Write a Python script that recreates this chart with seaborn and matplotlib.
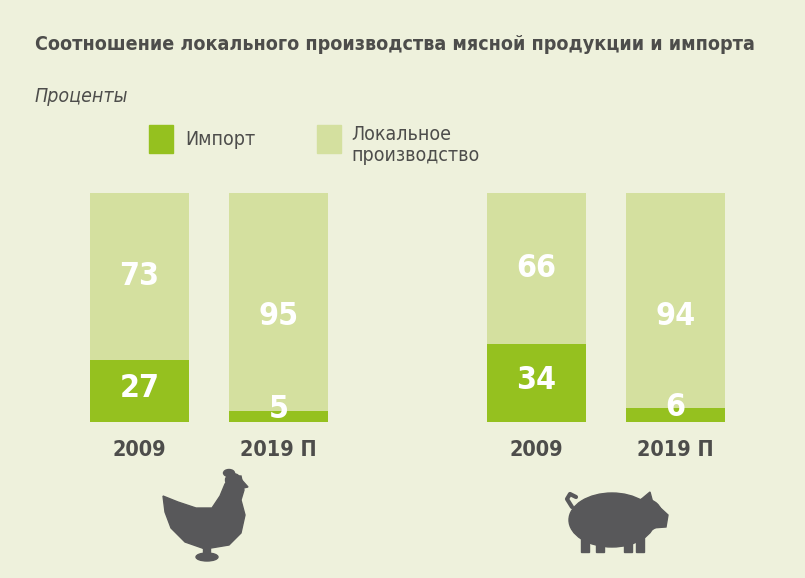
"""Соотношение локального производства мясной продукции и импорта."""

import matplotlib

matplotlib.use("Agg")
import matplotlib.pyplot as plt  # noqa: E402
import pandas as pd  # noqa: E402
import seaborn as sns  # noqa: E402
from matplotlib.patches import Ellipse, Polygon, Rectangle  # noqa: E402

# data
years = ["2009", "2019 П"]
chicken_import = [27, 5]
chicken_local = [73, 95]
pork_import = [34, 6]
pork_local = [66, 94]

BG = "#eef1dc"
IMPORT_C = "#95c11f"
LOCAL_C = "#d4e09f"
TEXT_C = "#4d4d4b"
ICON_C = "#58585a"

sns.set_theme(style="white")
plt.rcParams["font.family"] = ["DejaVu Sans"]
plt.rcParams["font.stretch"] = "condensed"

fig = plt.figure(figsize=(8.05, 5.78), dpi=100, facecolor=BG)
W, H = 805, 578


def px_axes(x0, y0, w, h):
    return fig.add_axes([x0 / W, 1 - (y0 + h) / H, w / W, h / H])


def draw_group(ax, imp, loc):
    df = pd.DataFrame({"year": years, "imp": imp, "total": [i + l for i, l in zip(imp, loc)]})
    sns.barplot(data=df, x="year", y="total", color=LOCAL_C, width=0.712,
                saturation=1, ax=ax, order=years, linewidth=0)
    sns.barplot(data=df, x="year", y="imp", color=IMPORT_C, width=0.712,
                saturation=1, ax=ax, order=years, linewidth=0)
    for i, (a, b) in enumerate(zip(imp, loc)):
        if a < 10:
            ya, yb = a + 0.3, 46
        else:
            ya, yb = a / 2 + 1, a + b / 2
        ax.text(i, ya, str(a), ha="center", va="center", color="white",
                fontsize=23, fontweight="bold")
        ax.text(i, yb, str(b), ha="center", va="center", color="white",
                fontsize=23, fontweight="bold")
    ax.set_xlim(-0.5, 1.5)
    ax.set_ylim(0, 100)
    ax.set_facecolor(BG)
    ax.set_xlabel("")
    ax.set_ylabel("")
    ax.set_yticks([])
    ax.tick_params(axis="x", length=0, pad=13, labelsize=15.5, labelcolor=TEXT_C)
    for lab in ax.get_xticklabels():
        lab.set_fontweight("bold")
    sns.despine(ax=ax, left=True, bottom=True)


ax1 = px_axes(70, 193, 278, 229)
draw_group(ax1, chicken_import, chicken_local)
ax2 = px_axes(467, 193, 278, 229)
draw_group(ax2, pork_import, pork_local)

# title, unit, legend
title = fig.text(35 / W, 1 - 45 / H,
                 "Соотношение локального производства мясной продукции и импорта",
                 fontsize=15, fontweight="bold", color=TEXT_C, va="center", ha="left")
renderer = fig.canvas.get_renderer()
tw = title.get_window_extent(renderer).width
title.set_fontsize(15 * 722 / tw)

fig.text(35 / W, 1 - 97 / H, "Проценты", fontsize=14, style="italic",
         color=TEXT_C, va="center", ha="left")

fig.patches.append(Rectangle((149 / W, 1 - 153 / H), 24 / W, 28 / H,
                             transform=fig.transFigure, color=IMPORT_C))
fig.text(185 / W, 1 - 140 / H, "Импорт", fontsize=14, color=TEXT_C, va="center")
fig.patches.append(Rectangle((317 / W, 1 - 153 / H), 24 / W, 28 / H,
                             transform=fig.transFigure, color=LOCAL_C))
fig.text(351 / W, 1 - 145 / H, "Локальное\nпроизводство", fontsize=14,
         color=TEXT_C, va="center", linespacing=1.15)

# icons (rough silhouettes)
icon = fig.add_axes([0, 0, 1, 1], facecolor="none")
icon.set_xlim(0, W)
icon.set_ylim(H, 0)
icon.axis("off")
# chicken: tail, body, neck, head
icon.add_patch(Polygon([(163, 496), (178, 502), (196, 508), (212, 508), (220, 496),
                        (225, 484), (231, 476), (241, 476), (244, 490), (241, 500),
                        (245, 515), (241, 533), (229, 545), (205, 549), (185, 542),
                        (171, 528), (165, 512)], closed=True, color=ICON_C))
icon.add_patch(Ellipse((233, 480), 15, 13, color=ICON_C))
icon.add_patch(Ellipse((229, 473), 11, 7, color=ICON_C))
icon.add_patch(Polygon([(240, 478), (248, 487), (239, 489)], color=ICON_C))
icon.add_patch(Rectangle((203, 545), 7, 12, color=ICON_C))
icon.add_patch(Ellipse((207, 557), 22, 8, color=ICON_C))
# pig: body, head, snout, ear, legs, tail
icon.add_patch(Ellipse((612, 520), 86, 54, color=ICON_C))
icon.add_patch(Ellipse((645, 515), 34, 32, color=ICON_C))
icon.add_patch(Polygon([(655, 503), (668, 515), (666, 527), (652, 528)], color=ICON_C))
icon.add_patch(Polygon([(638, 502), (650, 492), (654, 507)], color=ICON_C))
for lx, top in ((585, 530), (600, 535), (628, 535), (640, 528)):
    icon.add_patch(Rectangle((lx - 4, top), 8, 552 - top, color=ICON_C))
icon.plot([572, 567, 570, 576], [507, 499, 494, 497], color=ICON_C, lw=3)

fig.savefig("out.png", dpi=100, facecolor=BG)
